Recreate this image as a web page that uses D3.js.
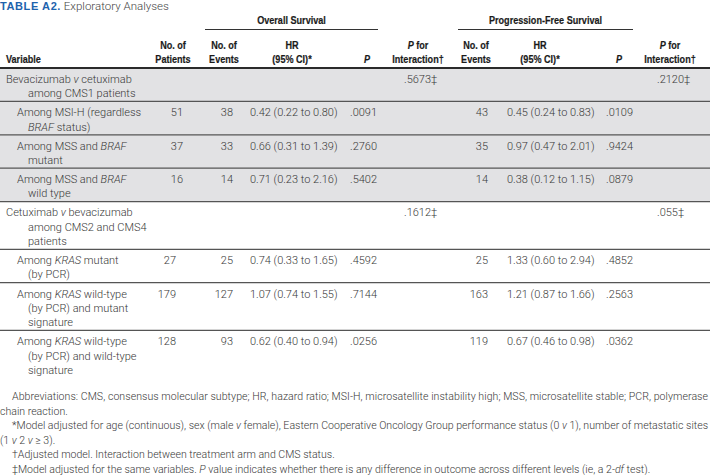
<!DOCTYPE html>
<html>
<head>
<meta charset="utf-8">
<script src="https://cdn.jsdelivr.net/npm/d3@7"></script>
<style>
  body { margin: 0; background: #fff; }
  svg { display: block; }
</style>
</head>
<body>
<div id="container"></div>
<script>
let w = 710;
let h = 475;

// DATA (one entry per table row, null = empty cell)
let variables = [
  ["Bevacizumab _v_ cetuximab", "among CMS1 patients"],
  ["Among MSI-H (regardless", "_BRAF_ status)"],
  ["Among MSS and _BRAF_", "mutant"],
  ["Among MSS and _BRAF_", "wild type"],
  ["Cetuximab _v_ bevacizumab", "among CMS2 and CMS4", "patients"],
  ["Among _KRAS_ mutant", "(by PCR)"],
  ["Among _KRAS_ wild-type", "(by PCR) and mutant", "signature"],
  ["Among _KRAS_ wild-type", "(by PCR) and wild-type", "signature"]
];
let isGroup = [true, false, false, false, true, false, false, false];
let section = [0, 0, 0, 0, 1, 1, 1, 1];
let patients = [null, 51, 37, 16, null, 27, 179, 128];
let osEvents = [null, 38, 33, 14, null, 25, 127, 93];
let osHR = [null, "0.42 (0.22 to 0.80)", "0.66 (0.31 to 1.39)", "0.71 (0.23 to 2.16)", null,
            "0.74 (0.33 to 1.65)", "1.07 (0.74 to 1.55)", "0.62 (0.40 to 0.94)"];
let osP = [null, ".0091", ".2760", ".5402", null, ".4592", ".7144", ".0256"];
let osInteraction = [".5673‡", null, null, null, ".1612‡", null, null, null];
let pfsEvents = [null, 43, 35, 14, null, 25, 163, 119];
let pfsHR = [null, "0.45 (0.24 to 0.83)", "0.97 (0.47 to 2.01)", "0.38 (0.12 to 1.15)", null,
             "1.33 (0.60 to 2.94)", "1.21 (0.87 to 1.66)", "0.67 (0.46 to 0.98)"];
let pfsP = [null, ".0109", ".9424", ".0879", null, ".4852", ".2563", ".0362"];
let pfsInteraction = [".2120‡", null, null, null, ".055‡", null, null, null];

let spanners = ["Overall Survival", "Progression-Free Survival"];
let headers = [
  ["", "Variable"],
  ["No. of", "Patients"],
  ["No. of", "Events"],
  ["HR", "(95% CI)*"],
  ["", "_P_"],
  ["_P_ for", "Interaction†"],
  ["No. of", "Events"],
  ["HR", "(95% CI)*"],
  ["", "_P_"],
  ["_P_ for", "Interaction†"]
];
// [indent, text, justified]
let footnotes = [
  [12, "Abbreviations: CMS, consensus molecular subtype; HR, hazard ratio; MSI-H, microsatellite instability high; MSS, microsatellite stable; PCR, polymerase", true],
  [0, "chain reaction.", false],
  [12, "*Model adjusted for age (continuous), sex (male _v_ female), Eastern Cooperative Oncology Group performance status (0 _v_ 1), number of metastatic sites", true],
  [0, "(1 _v_ 2 _v_ ≥ 3).", false],
  [12, "†Adjusted model. Interaction between treatment arm and CMS status.", false],
  [12, "‡Model adjusted for the same variables. _P_ value indicates whether there is any difference in outcome across different levels (ie, a 2-_df_ test).", false]
];

// LAYOUT
let bodyFont = "Roboto, 'Liberation Sans', Arial, sans-serif";
let bodyWeight = 300;
let headFont = "'Liberation Sans', Arial, sans-serif";
let headSize = 11.5;
let condense = 0.79;   // headers are set in a condensed bold face
let textColor = "#383838";
let headTop = 68;
let lineH = 14.3;
let rowPad = 4.8;

// header column centres
let headerX = [6, 173, 224, 292, 367, 418, 476, 540, 619, 670];

// value columns: x per section, anchor
let valueCols = [
  {data: patients, x: [183, 176], anchor: "end"},
  {data: osEvents, x: [233, 233], anchor: "end"},
  {data: osHR, x: [250, 250], anchor: "start"},
  {data: osP, x: [350, 350], anchor: "start"},
  {data: osInteraction, x: [404, 404], anchor: "start"},
  {data: pfsEvents, x: [488, 488], anchor: "end"},
  {data: pfsHR, x: [507, 507], anchor: "start"},
  {data: pfsP, x: [606, 606], anchor: "start"},
  {data: pfsInteraction, x: [657, 657], anchor: "start"}
];

// row positions from line counts
let rowHeights = variables.map(function(v) { return v.length * lineH + rowPad; });
let rowTops = [];
let acc = headTop;
rowHeights.forEach(function(rh) { rowTops.push(acc); acc += rh; });

// writes "_x_" segments as italic tspans
function richText(sel, str) {
  let parts = str.split("_");
  parts.forEach(function(p, i) {
    if (p === "") return;
    sel.append("tspan")
      .style("font-style", i % 2 === 1 ? "italic" : null)
      .text(p);
  });
}

// condensed bold header text placed at (x, y)
function headText(x, y, anchor, str) {
  let g = viz.append("g")
      .attr("transform", "translate(" + x + "," + y + ") scale(" + condense + ",1)");
  let t = g.append("text")
      .attr("text-anchor", anchor)
      .attr("font-family", headFont)
      .attr("font-weight", "bold")
      .attr("font-size", headSize)
      .attr("fill", "#1a1a1a")
      .attr("stroke", "#1a1a1a")
      .attr("stroke-width", 0.2);
  richText(t, str);
  return t;
}

let viz = d3.select("#container").append("svg")
    .attr("width", w)
    .attr("height", h)
    .style("background-color", "white");

// TITLE
let title = viz.append("text")
    .attr("x", 0)
    .attr("y", 10)
    .attr("font-family", bodyFont)
    .attr("font-weight", bodyWeight)
    .attr("font-size", 11.5);
title.append("tspan")
    .attr("font-family", headFont)
    .attr("font-weight", "bold")
    .attr("fill", "#1e63ad")
    .attr("font-size", 11)
    .attr("letter-spacing", 0.6)
    .text("TABLE A2.");
title.append("tspan")
    .attr("fill", "#444")
    .text(" Exploratory Analyses");

// SPANNERS
let spanX = [[205, 378], [458, 633]];
spanners.forEach(function(s, i) {
  headText((spanX[i][0] + spanX[i][1]) / 2, 24, "middle", s);
  viz.append("line")
      .attr("x1", spanX[i][0]).attr("x2", spanX[i][1])
      .attr("y1", 29.5).attr("y2", 29.5)
      .attr("stroke", "#333")
      .attr("stroke-width", 1);
});

// COLUMN HEADERS
headers.forEach(function(hd, i) {
  hd.forEach(function(line, j) {
    if (line === "") return;
    headText(headerX[i], 49 + j * 13.5, i === 0 ? "start" : "middle", line);
  });
});

// ROW BACKGROUNDS (section 0 is shaded)
viz.selectAll(".rowbg").data(variables).enter()
  .append("rect")
    .attr("class", "rowbg")
    .attr("x", 0)
    .attr("y", function(d, i) { return rowTops[i]; })
    .attr("width", w)
    .attr("height", function(d, i) { return rowHeights[i]; })
    .attr("fill", function(d, i) { return section[i] === 0 ? "#e2e2e4" : "white"; });

// ROW RULES
viz.selectAll(".rule").data(variables.slice(0, -1)).enter()
  .append("line")
    .attr("class", "rule")
    .attr("x1", 0).attr("x2", w)
    .attr("y1", function(d, i) { return rowTops[i] + rowHeights[i]; })
    .attr("y2", function(d, i) { return rowTops[i] + rowHeights[i]; })
    .attr("stroke", "#555")
    .attr("stroke-width", 1.3);

viz.append("line")
    .attr("x1", 0).attr("x2", w)
    .attr("y1", headTop).attr("y2", headTop)
    .attr("stroke", "#2a2a2a")
    .attr("stroke-width", 2);

// VARIABLE LABELS
variables.forEach(function(lines, i) {
  lines.forEach(function(line, j) {
    let x;
    if (j > 0) x = 28;
    else x = isGroup[i] ? 6 : 17;
    let t = viz.append("text")
        .attr("x", x)
        .attr("y", rowTops[i] + 14.8 + j * lineH)
        .attr("font-family", bodyFont)
        .attr("font-weight", bodyWeight)
        .attr("font-size", 11)
        .attr("fill", textColor);
    richText(t, line);
  });
});

// VALUES
valueCols.forEach(function(col) {
  let cells = col.data
    .map(function(d, i) { return {v: d, row: i}; })
    .filter(function(d) { return d.v !== null; });
  viz.selectAll(null).data(cells).enter()
    .append("text")
      .attr("x", function(d) { return col.x[section[d.row]]; })
      .attr("y", function(d) { return rowTops[d.row] + 14.8; })
      .attr("text-anchor", col.anchor)
      .attr("font-family", bodyFont)
      .attr("font-weight", bodyWeight)
      .attr("font-size", 11)
      .attr("fill", textColor)
      .text(function(d) { return d.v; });
});

// FOOTNOTES
let noteRight = w - 2;
let notes = footnotes.map(function(fn, i) {
  let t = viz.append("text")
      .attr("x", fn[0])
      .attr("y", 400 + i * 14.6)
      .attr("font-family", bodyFont)
      .attr("font-weight", bodyWeight)
      .attr("font-size", 10.5)
      .attr("fill", textColor);
  richText(t, fn[1]);
  return t;
});
// pick a size so the longest justified line fits, then justify those lines
let maxLen = d3.max(notes, function(t, i) {
  return footnotes[i][2] ? t.node().getComputedTextLength() / (noteRight - footnotes[i][0]) : 0;
});
let noteSize = 10.5 / maxLen;
notes.forEach(function(t, i) {
  t.attr("font-size", noteSize);
  if (footnotes[i][2]) {
    t.attr("textLength", noteRight - footnotes[i][0]).attr("lengthAdjust", "spacing");
  }
});
</script>
</body>
</html>
